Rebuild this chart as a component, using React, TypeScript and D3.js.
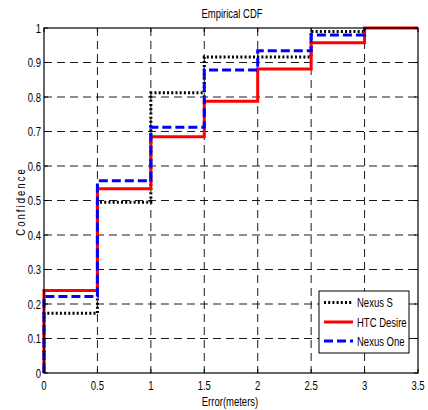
import React from "react";
import * as d3 from "d3";

const xSteps = [0, 0.5, 1, 1.5, 2, 2.5, 3];
const nexusS = [0.173, 0.495, 0.812, 0.916, 0.916, 0.99, 1];
const htcDesire = [0.239, 0.534, 0.685, 0.788, 0.881, 0.957, 1];
const nexusOne = [0.222, 0.557, 0.712, 0.878, 0.934, 0.98, 1];
const seriesNames = ["Nexus S", "HTC Desire", "Nexus One"];
const seriesEnds = [3, 3.5, 3];
const xTicks = [0, 0.5, 1, 1.5, 2, 2.5, 3, 3.5];
const yTicks = [0, 0.1, 0.2, 0.3, 0.4, 0.5, 0.6, 0.7, 0.8, 0.9, 1];

const W = 428, H = 410;
const L = 44, R = 418, T = 28, B = 373;
const FONT = "Liberation Sans, Arial, sans-serif";
const SX = 0.76;

const styles = [
  { stroke: "#000", width: 3, dash: "2 2.2" },
  { stroke: "#ff0000", width: 3, dash: "" },
  { stroke: "#0000ff", width: 3, dash: "9 4" },
];

function Txt({ x, y, children, anchor = "middle", size = 12.5, rotate = 0, ls = 0 }: any) {
  return (
    <text
      transform={`translate(${x},${y}) rotate(${rotate}) scale(${SX},1)`}
      textAnchor={anchor}
      fontFamily={FONT}
      fontSize={size}
      letterSpacing={ls}
      fill="#000"
    >
      {children}
    </text>
  );
}

export default function App() {
  const x = d3.scaleLinear().domain([0, 3.5]).range([L, R]);
  const y = d3.scaleLinear().domain([0, 1]).range([B, T]);
  const line = d3
    .line<[number, number]>()
    .x((d) => x(d[0]))
    .y((d) => y(d[1]))
    .curve(d3.curveStepAfter);
  const all = [nexusS, htcDesire, nexusOne];
  const paths = all.map((vals, i) => {
    const pts: [number, number][] = [[0, 0]];
    vals.forEach((v, j) => pts.push([xSteps[j], v]));
    pts.push([seriesEnds[i], 1]);
    return line(pts) as string;
  });

  return (
    <svg width={W} height={H} style={{ position: "absolute", left: 0, top: 0, background: "#fff" }}>
      <rect x={0} y={0} width={W} height={H} fill="#fff" />
      {xTicks.slice(1, -1).map((t) => (
        <line key={"gx" + t} x1={x(t)} x2={x(t)} y1={T} y2={B} stroke="#000" strokeWidth={0.9} strokeDasharray="8 5" />
      ))}
      {yTicks.slice(1, -1).map((t) => (
        <line key={"gy" + t} x1={L} x2={R} y1={y(t)} y2={y(t)} stroke="#000" strokeWidth={0.9} strokeDasharray="8 5" />
      ))}
      {paths.map((p, i) => (
        <path key={i} d={p} fill="none" stroke={styles[i].stroke} strokeWidth={styles[i].width} strokeDasharray={styles[i].dash || undefined} />
      ))}
      <rect x={L} y={T} width={R - L} height={B - T} fill="none" stroke="#000" strokeWidth={1.2} />
      {xTicks.map((t) => (
        <g key={"tx" + t}>
          <line x1={x(t)} x2={x(t)} y1={B} y2={B - 4} stroke="#000" />
          <line x1={x(t)} x2={x(t)} y1={T} y2={T + 4} stroke="#000" />
          <Txt x={x(t)} y={B + 17}>{String(t)}</Txt>
        </g>
      ))}
      {yTicks.map((t) => (
        <g key={"ty" + t}>
          <line x1={L} x2={L + 4} y1={y(t)} y2={y(t)} stroke="#000" />
          <line x1={R} x2={R - 4} y1={y(t)} y2={y(t)} stroke="#000" />
          <Txt x={L - 3} y={y(t) + 4.5} anchor="end">{String(t)}</Txt>
        </g>
      ))}
      <Txt x={232} y={18}>Empirical CDF</Txt>
      <Txt x={230} y={406}>Error(meters)</Txt>
      <Txt x={25} y={201.5} rotate={-90} ls={2.7}>Confidence</Txt>
      <rect x={319} y={291} width={90} height={62} fill="#fff" stroke="#000" strokeWidth={1} />
      {seriesNames.map((n, i) => {
        const ly = [302.5, 322, 341][i];
        return (
          <g key={n}>
            <line x1={324} x2={353} y1={ly} y2={ly} stroke={styles[i].stroke} strokeWidth={styles[i].width} strokeDasharray={styles[i].dash || undefined} />
            <Txt x={357} y={ly + 4.5} anchor="start">{n}</Txt>
          </g>
        );
      })}
    </svg>
  );
}
